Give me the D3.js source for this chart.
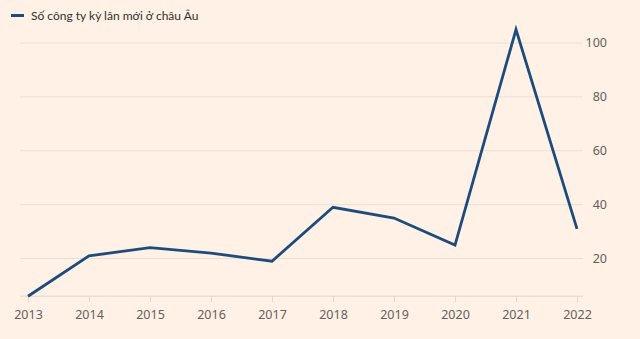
<!DOCTYPE html>
<html><head><meta charset="utf-8">
<script src="https://cdn.jsdelivr.net/npm/d3@7"></script>
<style>
html,body{margin:0;padding:0;background:#fff1e5;}
svg{display:block;}
</style></head>
<body>
<script>
const years = [2013,2014,2015,2016,2017,2018,2019,2020,2021,2022];
const values = [6,21,24,22,19,39,35,25,105,31];
const yTicks = [20,40,60,80,100];
const seriesName = "Số công ty kỳ lân mới ở châu Âu";

const W=640,H=339;
const svg=d3.select("body").append("svg").attr("width",W).attr("height",H);
svg.append("rect").attr("width",W).attr("height",H).attr("fill","#fff1e5");

const x=d3.scaleLinear().domain([2013,2022]).range([28,577]);
const y=d3.scaleLinear().domain([20,100]).range([258.5,43]);
const font="'Noto Sans', 'Open Sans', sans-serif";
const textCol="#66605c";

// gridlines
svg.append("g").selectAll("line").data(yTicks).join("line")
  .attr("x1",20).attr("x2",583)
  .attr("y1",d=>y(d)).attr("y2",d=>y(d))
  .attr("stroke","#eadfd4").attr("stroke-width",1);
svg.append("g").selectAll("text").data(yTicks).join("text")
  .attr("x",607).attr("y",d=>y(d)).attr("dy","0.35em")
  .attr("text-anchor","end").attr("font-family",font).attr("font-size",12.5)
  .attr("fill",textCol).text(d=>d);

// x axis
const base=y(6);
const xAxis=d3.axisBottom(x).tickValues(years).tickFormat(d3.format("d")).tickSize(6).tickPadding(8);
const gx=svg.append("g").attr("transform",`translate(0,${base})`).call(xAxis);
gx.select(".domain").remove();
gx.append("line").attr("x1",20).attr("x2",583).attr("stroke","#e3d8cd");
gx.selectAll(".tick line").attr("stroke","#e3d8cd");
gx.selectAll(".tick text").attr("font-family",font).attr("font-size",12.5).attr("fill",textCol);

// line
const line=d3.line().x((d,i)=>x(years[i])).y(d=>y(d));
svg.append("path").datum(values).attr("d",line)
  .attr("fill","none").attr("stroke","#1d4c7c").attr("stroke-width",2.8)
  .attr("stroke-linejoin","miter");

// legend
svg.append("line").attr("x1",11).attr("x2",24).attr("y1",15.5).attr("y2",15.5)
  .attr("stroke","#1d4c7c").attr("stroke-width",3);
svg.append("text").attr("x",31).attr("y",15.5).attr("dy","0.35em")
  .attr("font-family","Lato, 'Noto Sans', sans-serif").attr("font-size",12).attr("fill","#33302e").text(seriesName);
</script>
</body></html>
